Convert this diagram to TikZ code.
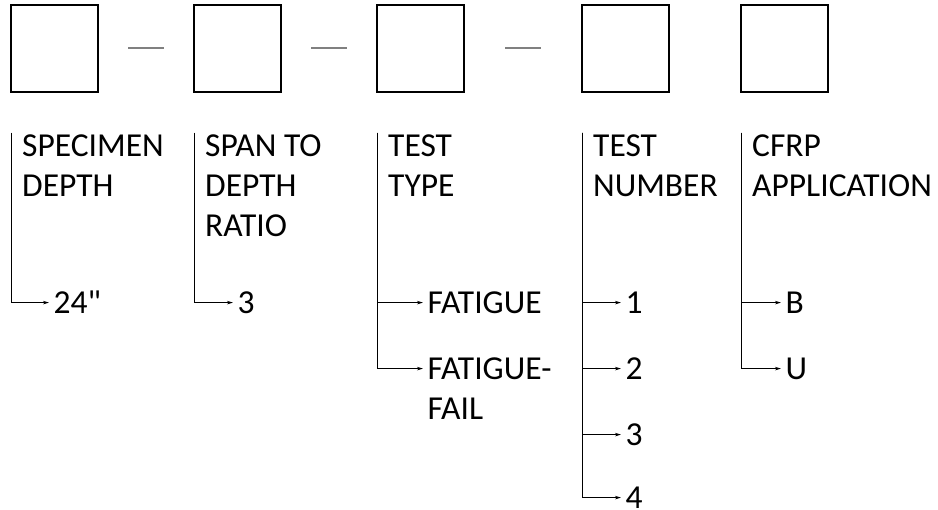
\documentclass[tikz,border=0pt]{standalone}
\usepackage{fontspec}
\setmainfont{Carlito}[Ligatures=TeXOff]
\usetikzlibrary{arrows.meta,positioning,calc}

\begin{document}
\begin{tikzpicture}[x=1pt,y=-1pt,
    field/.style={draw,line width=1.2pt,minimum size=87pt,inner sep=0pt},
    head/.style={inner sep=0pt,align=left,font=\fontsize{33.5}{40}\selectfont},
    value/.style={inner xsep=4.5pt,inner ysep=0pt,anchor=west,font=\fontsize{33.5}{40}\selectfont},
    branch/.style={-{Stealth[length=6pt,width=3.5pt]},line width=1pt},
    sep/.style={draw=gray,line width=2pt}]
    \useasboundingbox (0,0) rectangle (938,510);

    % code fields
    \node[field] (b1) at (54.5,48.5) {};
    \node[field] (b2) at (237.5,48.5) {};
    \node[field] (b3) at (420.5,48.5) {};
    \node[field] (b4) at (625.5,48.5) {};
    \node[field] (b5) at (784.5,48.5) {};

    \draw[sep] ($(b1.east)!0.5!(b2.west)+(-18,0)$) -- ($(b1.east)!0.5!(b2.west)+(18,0)$);
    \draw[sep] ($(b2.east)!0.5!(b3.west)+(-18,0)$) -- ($(b2.east)!0.5!(b3.west)+(18,0)$);
    \draw[sep] ($(b3.east)!0.5!(b4.west)+(-18,0)$) -- ($(b3.east)!0.5!(b4.west)+(18,0)$);

    % trunks
    \coordinate (t1) at ($(b1.south west)+(0.6,40)$);
    \coordinate (t2) at ($(b2.south west)+(0.6,40)$);
    \coordinate (t3) at ($(b3.south west)+(0.6,40)$);
    \coordinate (t4) at ($(b4.south west)+(0.6,40)$);
    \coordinate (t5) at ($(b5.south west)+(0.6,40)$);

    \node[head,anchor=north west] (h1) at ($(t1)+(11,2)$) {SPECIMEN\\DEPTH};
    \node[head,anchor=north west] (h2) at ($(t2)+(11,2)$) {SPAN TO\\DEPTH\\RATIO};
    \node[head,anchor=north west] (h3) at ($(t3)+(11,2)$) {TEST\\TYPE};
    \node[head,anchor=north west] (h4) at ($(t4)+(11,2)$) {TEST\\NUMBER};
    \node[head,anchor=north west] (h5) at ($(t5)+(11,2)$) {CFRP\\APPLICATION};

    % values
    \node[value] (v11) at ($(t1)+(38,170)$) {24"};
    \node[value] (v21) at ($(t2)+(39,170)$) {3};
    \node[value] (v31) at ($(t3)+(46,170)$) {FATIGUE};
    \node[value] (v32) at ($(t3)+(46,236)$) {FATIGUE-};
    \node[head,anchor=base west] (v32b) at ($(v32.base west)+(4.5,40)$) {FAIL};
    \node[value] (v41) at ($(t4)+(39,170)$) {1};
    \node[value] (v42) at ($(t4)+(39,236)$) {2};
    \node[value] (v43) at ($(t4)+(39,302)$) {3};
    \node[value] (v44) at ($(t4)+(39,365)$) {4};
    \node[value] (v51) at ($(t5)+(40,170)$) {B};
    \node[value] (v52) at ($(t5)+(40,236)$) {U};

    \draw[branch] (t1) |- (v11);
    \draw[branch] (t2) |- (v21);
    \draw[branch] (t3) |- (v31);
    \draw[branch] (t3) |- (v32);
    \draw[branch] (t4) |- (v41);
    \draw[branch] (t4) |- (v42);
    \draw[branch] (t4) |- (v43);
    \draw[branch] (t4) |- (v44);
    \draw[branch] (t5) |- (v51);
    \draw[branch] (t5) |- (v52);
\end{tikzpicture}
\end{document}
